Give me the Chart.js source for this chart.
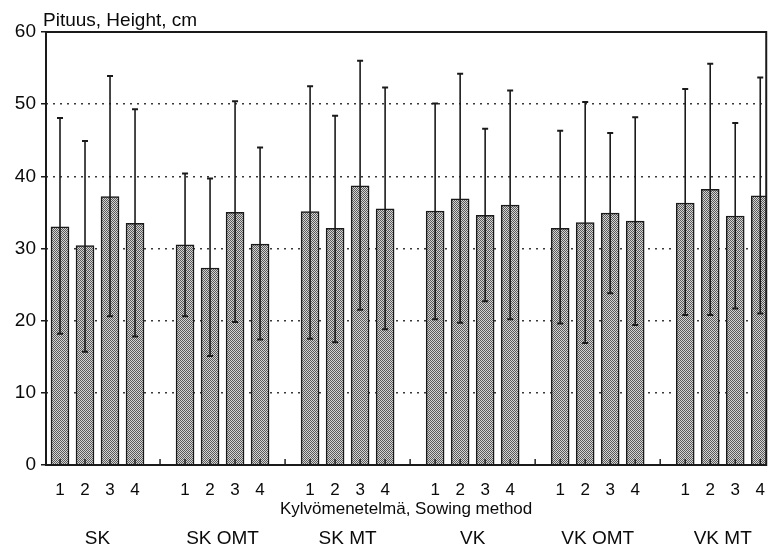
<!DOCTYPE html>
<html>
<head>
<meta charset="utf-8">
<script src="https://cdn.jsdelivr.net/npm/chart.js@4/dist/chart.umd.min.js"></script>
<style>
  html, body { margin: 0; padding: 0; background: #fff; }
  #wrap { width: 772px; height: 551px; }
</style>
</head>
<body>
<div id="wrap"><canvas id="chart"></canvas></div>
<script>
// sowing methods (groups) and the four bars inside each group
const groups = ["SK", "SK OMT", "SK MT", "VK", "VK OMT", "VK MT"];
const barLabels = ["1", "2", "3", "4"];

// mean height, cm (4 per group)
const means = [
    33.0, 30.4, 37.2, 33.5,
    30.5, 27.3, 35.0, 30.6,
    35.1, 32.8, 38.7, 35.5,
    35.2, 36.9, 34.6, 36.0,
    32.8, 33.6, 34.9, 33.8,
    36.3, 38.2, 34.5, 37.3
];
// error bar ends
const upper = [
    48.1, 44.9, 53.9, 49.3,
    40.4, 39.7, 50.4, 44.0,
    52.5, 48.4, 56.0, 52.3,
    50.1, 54.2, 46.6, 51.9,
    46.3, 50.3, 46.0, 48.2,
    52.1, 55.6, 47.4, 53.7
];
const lower = [
    18.2, 15.7, 20.6, 17.8,
    20.6, 15.1, 19.8, 17.4,
    17.5, 17.0, 21.5, 18.8,
    20.2, 19.7, 22.7, 20.2,
    19.6, 16.9, 23.8, 19.4,
    20.8, 20.8, 21.7, 21.0
];
const yTicks = [0, 10, 20, 30, 40, 50, 60];

const yTitle = "Pituus, Height, cm";
const xTitle = "Kylvömenetelmä, Sowing method";

// each group takes 4 slots plus one empty slot between groups
const slotCount = groups.length * 5 - 1;
const slots = [];
const slotLabels = [];
for (let s = 0; s < slotCount; s++) {
    slots.push(s);
    slotLabels.push(s % 5 < 4 ? barLabels[s % 5] : "");
}
const groupCenters = groups.map((g, i) => i * 5 + 1.5);

// stippled grey fill like the print
function stipple() {
    const c = document.createElement("canvas");
    c.width = 4;
    c.height = 4;
    const g = c.getContext("2d");
    g.fillStyle = "#d4d4d4";
    g.fillRect(0, 0, 4, 4);
    g.fillStyle = "#5a5a5a";
    for (let y = 0; y < 4; y++) {
        for (let x = 0; x < 4; x++) {
            if ((x + y) % 2 === 0) g.fillRect(x, y, 1, 1);
        }
    }
    return g.createPattern(c, "repeat");
}

const fontFamily = "'Liberation Sans', Arial, Helvetica, sans-serif";
Chart.defaults.font.family = fontFamily;
Chart.defaults.color = "#0a0a0a";

const extras = {
    id: "extras",
    afterDatasetsDraw(chart) {
        const ctx = chart.ctx;
        const area = chart.chartArea;
        const xs = chart.scales.x;
        const ys = chart.scales.y;
        ctx.save();
        // small ticks standing on the base line
        ctx.strokeStyle = "#222";
        ctx.lineWidth = 1.5;
        slots.forEach((s) => {
            const px = xs.getPixelForValue(s);
            ctx.beginPath();
            ctx.moveTo(px, area.bottom);
            ctx.lineTo(px, area.bottom - 6);
            ctx.stroke();
        });
        // error bars
        const meta = chart.getDatasetMeta(0);
        ctx.strokeStyle = "#1a1a1a";
        meta.data.forEach((bar, i) => {
            const top = ys.getPixelForValue(upper[i]);
            const bot = ys.getPixelForValue(lower[i]);
            ctx.lineWidth = 1.6;
            ctx.beginPath();
            ctx.moveTo(bar.x, top);
            ctx.lineTo(bar.x, bot);
            ctx.stroke();
            ctx.lineWidth = 2;
            ctx.beginPath();
            ctx.moveTo(bar.x - 3, top);
            ctx.lineTo(bar.x + 3, top);
            ctx.moveTo(bar.x - 3, bot);
            ctx.lineTo(bar.x + 3, bot);
            ctx.stroke();
        });
        // frame
        ctx.strokeStyle = "#1a1a1a";
        ctx.lineWidth = 2;
        ctx.strokeRect(area.left, area.top, area.right - area.left, area.bottom - area.top);
        ctx.restore();
    },
    afterDraw(chart) {
        const ctx = chart.ctx;
        ctx.save();
        ctx.fillStyle = "#0a0a0a";
        ctx.font = "19px " + fontFamily;
        ctx.textAlign = "left";
        ctx.textBaseline = "alphabetic";
        ctx.fillText(yTitle, chart.chartArea.left - 3, 26);
        ctx.restore();
    }
};

const ctx = document.getElementById("chart").getContext("2d");
new Chart(ctx, {
    type: "bar",
    data: {
        datasets: [
            {
                data: means.map((v, i) => ({ x: Math.floor(i / 4) * 5 + (i % 4), y: v })),
                backgroundColor: stipple(),
                borderColor: "#1a1a1a",
                borderWidth: 1.5,
                barThickness: 18,
                xAxisID: "x",
                yAxisID: "y",
            },
        ],
    },
    options: {
        responsive: true,
        maintainAspectRatio: false,
        animation: false,
        layout: {
            padding: { top: 32, right: 4, left: 0, bottom: 0 },
        },
        plugins: {
            legend: { display: false },
            tooltip: { enabled: false },
        },
        scales: {
            x: {
                type: "linear",
                position: "bottom",
                offset: false,
                weight: 0,
                min: -0.56,
                max: slotCount - 1 + 0.24,
                afterBuildTicks: (scale) => {
                    scale.ticks = slots.map((s) => ({ value: s }));
                },
                afterFit: (scale) => {
                    scale.height = 56;
                },
                grid: { display: false, offset: false },
                border: { display: false },
                ticks: {
                    autoSkip: false,
                    maxRotation: 0,
                    padding: 7,
                    font: { size: 17 },
                    callback: (value, index) => slotLabels[index],
                },
                title: {
                    display: true,
                    text: xTitle,
                    font: { size: 17 },
                    padding: { top: 0, bottom: 1 },
                },
            },
            x2: {
                type: "linear",
                position: "bottom",
                offset: false,
                weight: 1,
                min: -0.56,
                max: slotCount - 1 + 0.24,
                afterBuildTicks: (scale) => {
                    scale.ticks = groupCenters.map((c) => ({ value: c }));
                },
                afterFit: (scale) => {
                    scale.height = 30;
                },
                grid: { display: false, offset: false },
                border: { display: false },
                ticks: {
                    autoSkip: false,
                    maxRotation: 0,
                    padding: -2,
                    font: { size: 19 },
                    callback: (value, index) => groups[index],
                },
            },
            y: {
                min: 0,
                max: 60,
                afterBuildTicks: (scale) => {
                    scale.ticks = yTicks.map((v) => ({ value: v }));
                },
                afterFit: (scale) => {
                    scale.width = 46;
                },
                border: { display: false, dash: [2, 5] },
                grid: {
                    color: (c) => (c.tick && (c.tick.value === 0 || c.tick.value === 60) ? "rgba(0,0,0,0)" : "#3a3a3a"),
                    lineWidth: 1.5,
                    drawTicks: true,
                    tickLength: 5,
                    tickColor: "#1a1a1a",
                    tickWidth: 1.5,
                    tickBorderDash: [],
                },
                ticks: {
                    padding: 5,
                    font: { size: 19 },
                    callback: (value) => String(value),
                },
            },
        },
    },
    plugins: [extras],
});
</script>
</body>
</html>
